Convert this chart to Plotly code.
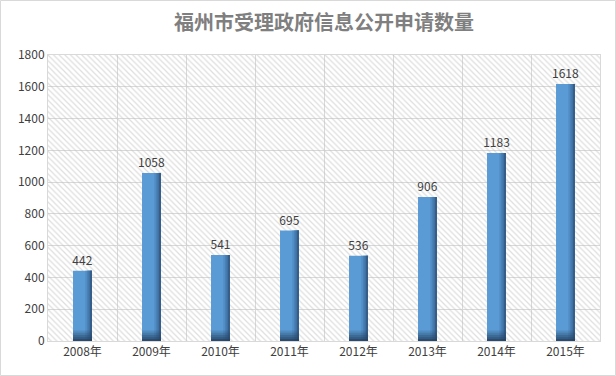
import plotly.graph_objects as go

years = ["2008年", "2009年", "2010年", "2011年", "2012年", "2013年", "2014年", "2015年"]
values = [442, 1058, 541, 695, 536, 906, 1183, 1618]
title_text = "福州市受理政府信息公开申请数量"
y_ticks = [0, 200, 400, 600, 800, 1000, 1200, 1400, 1600, 1800]

W, H = 616, 376
ML, MR, MT, MB = 48, 16, 55, 35
PW, PH = W - ML - MR, H - MT - MB
n = len(years)
xs = list(range(n))
BW = 0.275
FONT = "Noto Sans CJK SC"

fig = go.Figure()

# hatched plot background (transparent fill so gridlines show through)
fig.add_trace(go.Bar(
    x=[(n - 1) / 2], y=[y_ticks[-1]], width=[n], base=0,
    marker=dict(color="rgba(0,0,0,0)", line=dict(width=0),
                pattern=dict(shape="\\", fgcolor="#bdbdbd", bgcolor="rgba(0,0,0,0)",
                             size=4, solidity=0.3)),
    hoverinfo="skip", showlegend=False))

# main bars
fig.add_trace(go.Bar(
    x=xs, y=values, width=BW, base=0,
    marker=dict(color="#5b9bd5", line=dict(width=0)),
    text=[str(v) for v in values], textposition="outside", constraintext="none",
    textfont=dict(family=FONT, size=12, color="#404040"),
    cliponaxis=False, showlegend=False))

# right-edge shading strips (cylinder look)
strip_colors = ["#5390c8", "#4a82b8", "#3f71a3", "#355f8a"]
sw = BW * 0.09
for i, c in enumerate(strip_colors):
    off = BW / 2 - (len(strip_colors) - i) * sw
    fig.add_trace(go.Bar(
        x=xs, y=values, base=0, width=(len(strip_colors) - i) * sw, offset=off,
        marker=dict(color=c, line=dict(width=0)), hoverinfo="skip", showlegend=False))

# bottom shading (gradient towards dark navy)
bottom_layers = [(66, "rgba(40,70,105,0.18)"), (52, "rgba(40,70,105,0.25)"),
                 (38, "rgba(40,70,105,0.32)"), (24, "rgba(40,70,105,0.4)"),
                 (12, "rgba(35,60,90,0.5)")]
for h, c in bottom_layers:
    fig.add_trace(go.Bar(
        x=xs, y=[min(h, v) for v in values], base=0, width=BW,
        marker=dict(color=c, line=dict(width=0)), hoverinfo="skip", showlegend=False))

fig.update_layout(
    width=W, height=H, barmode="overlay",
    margin=dict(l=ML, r=MR, t=MT, b=MB),
    paper_bgcolor="white", plot_bgcolor="white",
    title=dict(text=title_text, x=0.5, xref="paper", xanchor="center",
               y=1 - 23 / H, yanchor="middle", yref="container",
               font=dict(family=FONT, size=20, color="#7f7f7f", weight="bold")),
    xaxis=dict(range=[-0.5, n - 0.5], tickmode="array", tickvals=xs, ticktext=years,
               showgrid=False, zeroline=False, showline=True, linecolor="#d9d9d9",
               mirror=True, ticks="", tickfont=dict(family=FONT, size=12, color="#404040"),
               minor=dict(tickmode="array", tickvals=[i + 0.5 for i in range(n - 1)],
                          showgrid=True, gridcolor="#d9d9d9", gridwidth=1, ticks="")),
    yaxis=dict(range=[0, y_ticks[-1]], tickmode="array", tickvals=y_ticks,
               showgrid=True, gridcolor="#d9d9d9", gridwidth=1, zeroline=False,
               showline=True, linecolor="#d9d9d9", mirror=True, ticks="",
               tickfont=dict(family=FONT, size=12, color="#404040")),
    shapes=[dict(type="rect", xref="paper", yref="paper",
                 x0=(0.5 - ML) / PW, x1=(W - 0.5 - ML) / PW,
                 y0=(PH + MT - (H - 0.5)) / PH, y1=(PH + MT - 0.5) / PH,
                 line=dict(color="#d9d9d9", width=1), fillcolor="rgba(0,0,0,0)",
                 layer="below")],
)

fig.write_html("out.html", config={"displayModeBar": False},
               post_script="document.body.style.margin='0';document.body.style.overflow='hidden';")
